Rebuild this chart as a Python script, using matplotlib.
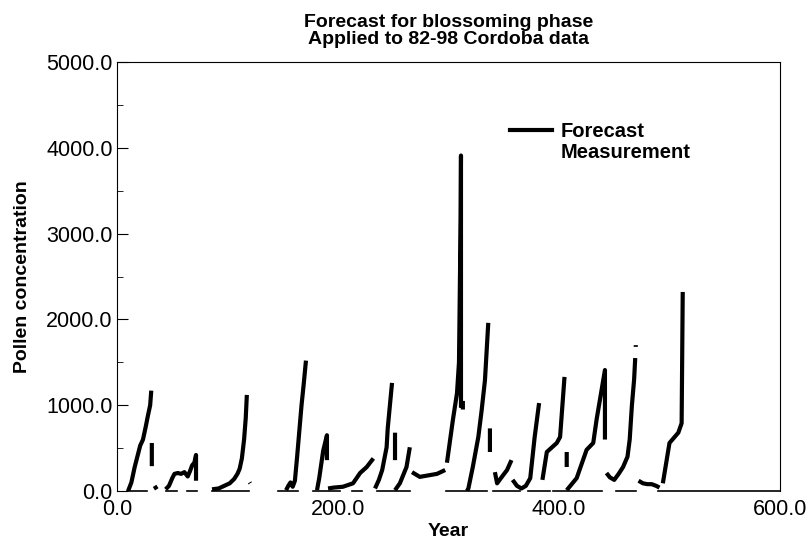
import numpy as np
import matplotlib

matplotlib.use("Agg")
import matplotlib.pyplot as plt
from matplotlib.lines import Line2D
from matplotlib.ticker import MultipleLocator, FormatStrFormatter

plt.rcParams.update({"font.family": ["Liberation Sans", "DejaVu Sans"]})

nan = np.nan

# forecast: pieces separated by NaN gaps
forecast_year = [
    10, 13, 16, 19, 21, 23.5, 26, 28, 30, 31, nan,
    31.5, 31.5, nan,
    34, 36, nan,
    44, 47, 50, 52, 55, 58, 61, 64, 66, 68, 70, 71.5, 71.5, nan,
    86, 92, 97, 102, 106, 109, 111, 113, 115, 116.5, 117.5, nan,
    120, 120.5, nan,
    153, 155, 157, 159, 161, 163, 165, 167, 169, 171, nan,
    181, 183, 186.6, 190, 190, nan,
    191, 196, 204.5, 213.6, 220, 226, 232, nan,
    233.5, 237, 240, 244, 245, 247, 248.9, nan,
    251.6, 251.6, nan,
    251.6, 256, 262, 265, nan,
    267, 274, 283, 289.6, 297, nan,
    298.6, 304, 307.7, 309.5, 311, 311.3, 311.3, nan,
    313, 313, nan,
    316.7, 318, 322, 327, 330, 333, 336, nan,
    337.5, 337.5, nan,
    342, 344, 348, 353, 357, nan,
    358, 362, 366, 370, 374, 378, 382, nan,
    385, 389, 398, 401, 405, nan,
    407, 407, nan,
    407, 416, 425, 431, 434, 441.6, 441.6, nan,
    443, 446, 450, 454, 458, 462, 464, 466, 468, 469, nan,
    469.5, 469.5, nan,
    472, 476, 480, 484, 488, 491, nan,
    494, 500, 508, 511, 512,
]
forecast = [
    0, 100, 280, 430, 530, 600, 750, 880, 1000, 1170, nan,
    560, 290, nan,
    60, 20, nan,
    20, 60, 150, 200, 210, 200, 220, 170, 230, 300, 330, 420, 120, nan,
    20, 30, 60, 90, 140, 200, 260, 380, 600, 850, 1120, nan,
    100, 90, nan,
    10, 60, 100, 50, 120, 400, 700, 1000, 1250, 1520, nan,
    10, 150, 470, 650, 360, nan,
    30, 40, 50, 90, 210, 280, 380, nan,
    30, 130, 245, 510, 730, 1000, 1260, nan,
    680, 360, nan,
    10, 90, 280, 510, nan,
    220, 165, 185, 200, 245, nan,
    330, 830, 1140, 1500, 3190, 3910, 970, nan,
    1050, 950, nan,
    0, 30, 280, 630, 940, 1290, 1960, nan,
    730, 455, nan,
    220, 90, 160, 245, 360, nan,
    130, 60, 30, 60, 150, 630, 1025, nan,
    130, 455, 560, 630, 1330, nan,
    455, 280, nan,
    10, 150, 480, 560, 830, 1410, 600, nan,
    210, 160, 130, 200, 280, 400, 600, 1000, 1300, 1550, nan,
    1700, 1680, nan,
    120, 90, 80, 80, 60, 40, nan,
    90, 560, 680, 790, 2320,
]

# measurement: only the zero stretches show below the forecast
measurement_year = [
    9, 27, nan, 44, 54, nan, 63, 72, nan, 86, 119, nan, 146, 164, nan,
    177, 202, nan, 213, 222, nan, 235, 265, nan, 298, 335, nan, 340, 365, nan,
    372, 392, nan, 395, 439, nan, 452, 470, nan, 490, 600,
]
measurement = [0 if not np.isnan(v) else nan for v in measurement_year]

fig = plt.figure(figsize=(8.07, 5.39), dpi=100)
ax = fig.add_axes([0.145, 0.089, 0.8215, 0.796])

ax.plot(measurement_year, measurement, color="black", lw=1.2, clip_on=False)
ax.plot(forecast_year, forecast, color="black", lw=3.0, solid_capstyle="butt")

ax.set_xlim(0, 600)
ax.set_ylim(0, 5000)
ax.spines["bottom"].set_visible(False)
ax.xaxis.set_major_locator(MultipleLocator(200))
ax.yaxis.set_major_locator(MultipleLocator(1000))
ax.yaxis.set_minor_locator(MultipleLocator(500))
ax.xaxis.set_major_formatter(FormatStrFormatter("%.1f"))
ax.yaxis.set_major_formatter(FormatStrFormatter("%.1f"))
ax.tick_params(axis="y", which="major", direction="in", length=8, labelsize=15.5, pad=3)
ax.tick_params(axis="y", which="minor", direction="in", length=4)
ax.tick_params(axis="x", length=0, labelsize=15.5, pad=6)

ax.set_xlabel("Year", fontsize=14, fontweight="bold", labelpad=2)
ax.set_ylabel("Pollen concentration", fontsize=14, fontweight="bold", labelpad=11)
ax.set_title("Forecast for blossoming phase\nApplied to 82-98 Cordoba data",
             fontsize=14, fontweight="bold", linespacing=1.0, pad=13)

handles = [Line2D([], [], color="black", lw=3),
           Line2D([], [], color="none")]
ax.legend(handles, ["Forecast", "Measurement"], loc="upper left",
          bbox_to_anchor=(0.593, 0.86), frameon=False, handlelength=2.1,
          handletextpad=0.4, borderpad=0, borderaxespad=0, labelspacing=0.1,
          prop={"size": 14.5, "weight": "bold"})

fig.savefig("out.png", dpi=100)
